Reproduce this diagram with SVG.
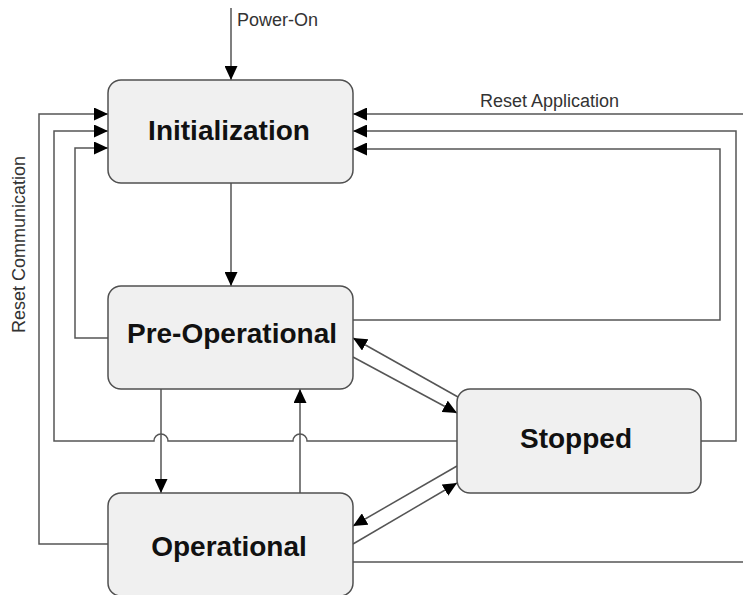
<svg xmlns="http://www.w3.org/2000/svg" width="743" height="595" viewBox="0 0 743 595">
<style>
.node rect{fill:#f0f0f0;stroke:#505050;stroke-width:1.5}
.node text{font-family:"Liberation Sans",Arial,sans-serif;font-weight:bold;font-size:28px;fill:#111;text-anchor:middle}
.edges path{fill:none;stroke:#555;stroke-width:1.5}
.lbl{font-family:"Liberation Sans",Arial,sans-serif;font-size:18px;fill:#333}
</style>
<defs>
<marker id="ah" markerUnits="userSpaceOnUse" markerWidth="14" markerHeight="13" refX="14" refY="6.5" orient="auto">
<path d="M0,0 L14,6.5 L0,13 z" fill="#000"/>
</marker>
</defs>
<rect width="743" height="595" fill="#fff"/>
<g class="edges">
<path d="M231,8 V80" marker-end="url(#ah)"/>
<path d="M231,183 V286" marker-end="url(#ah)"/>
<path d="M108,338 H75 V148 H108" marker-end="url(#ah)"/>
<path d="M457,441 H307 A7,7 0 0 0 293,441 H168 A7,7 0 0 0 154,441 H54 V131 H108" marker-end="url(#ah)"/>
<path d="M108,544 H39 V114 H108" marker-end="url(#ah)"/>
<path d="M353,320 H720 V149 H353" marker-end="url(#ah)"/>
<path d="M701,441 H736 V131 H353" marker-end="url(#ah)"/>
<path d="M353,562 H743"/>
<path d="M743,114 H353" marker-end="url(#ah)"/>
<path d="M161,389 V493" marker-end="url(#ah)"/>
<path d="M300,493 V389" marker-end="url(#ah)"/>
<path d="M458,397 L353,338" marker-end="url(#ah)"/>
<path d="M353,357 L457,413" marker-end="url(#ah)"/>
<path d="M457,466 L353,526" marker-end="url(#ah)"/>
<path d="M353,544 L457,483" marker-end="url(#ah)"/>
</g>
<g id="init" class="node"><rect x="108" y="80" width="245" height="103" rx="13"/><text x="229" y="140">Initialization</text></g>
<g id="preop" class="node"><rect x="108" y="286" width="245" height="103" rx="13"/><text x="232" y="343">Pre-Operational</text></g>
<g id="stopped" class="node"><rect x="457" y="389" width="244" height="104" rx="13"/><text x="576" y="448">Stopped</text></g>
<g id="operational" class="node"><rect x="108" y="493" width="245" height="103" rx="13"/><text x="229" y="556">Operational</text></g>
<g id="labels">
<text class="lbl" x="237" y="26">Power-On</text>
<text class="lbl" x="480" y="107" font-size="19">Reset Application</text>
<text class="lbl" transform="translate(25,333) rotate(-90)">Reset Communication</text>
</g>
</svg>
